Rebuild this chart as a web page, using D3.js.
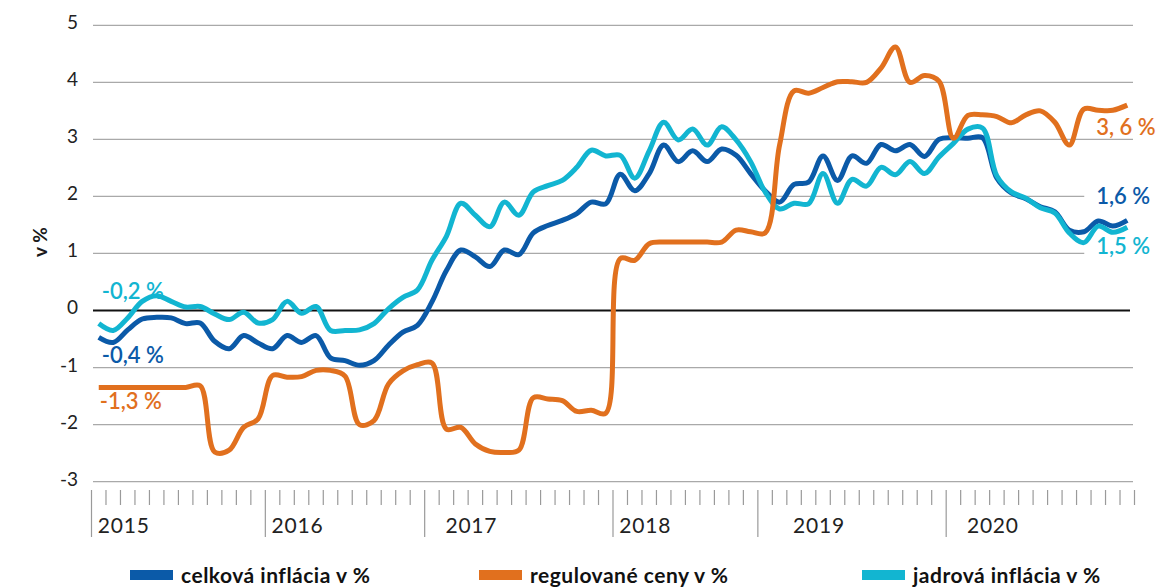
<!DOCTYPE html>
<html>
<head>
<meta charset="utf-8">
<script src="https://cdn.jsdelivr.net/npm/d3@7"></script>
<style>
  body { margin: 0; background: #fff; }
  svg { display: block; font-family: Lato, "Noto Sans", sans-serif; }
</style>
</head>
<body>
<svg id="chart" width="1176" height="587"></svg>
<script>
// data, monthly Jan 2015 - Dec 2020
const years = ["2015", "2016", "2017", "2018", "2019", "2020"];
const months = years.flatMap(y => d3.range(1, 13).map(m => y + "-" + String(m).padStart(2, "0")));

const celkova = [
  -0.47, -0.56, -0.34, -0.15, -0.12, -0.13, -0.23, -0.22, -0.54, -0.67, -0.44, -0.57,
  -0.67, -0.44, -0.56, -0.44, -0.83, -0.88, -0.96, -0.88, -0.61, -0.38, -0.26, 0.15,
  0.70, 1.06, 0.94, 0.77, 1.06, 0.98, 1.36, 1.49, 1.58, 1.70, 1.90, 1.87,
  2.39, 2.10, 2.40, 2.90, 2.61, 2.80, 2.61, 2.83, 2.72, 2.40, 2.10, 1.90,
  2.21, 2.25, 2.71, 2.28, 2.71, 2.58, 2.91, 2.80, 2.91, 2.70, 3.00, 3.03,
  3.02, 3.03, 2.32, 2.06, 1.96, 1.82, 1.73, 1.41, 1.38, 1.57, 1.48, 1.58
];
const regulovane = [
  -1.35, -1.35, -1.35, -1.35, -1.35, -1.35, -1.35, -1.32, -2.48, -2.45, -2.05, -1.90,
  -1.14, -1.17, -1.16, -1.05, -1.05, -1.15, -2.00, -1.93, -1.29, -1.06, -0.95, -0.92,
  -2.08, -2.05, -2.34, -2.47, -2.49, -2.45, -1.53, -1.55, -1.58, -1.77, -1.75, -1.80,
  0.91, 0.88, 1.17, 1.20, 1.20, 1.20, 1.20, 1.20, 1.41, 1.38, 1.36, 2.90,
  3.85, 3.81, 3.91, 4.01, 4.01, 4.00, 4.25, 4.62, 4.00, 4.12, 4.02, 3.02,
  3.42, 3.43, 3.40, 3.29, 3.43, 3.50, 3.30, 2.90, 3.53, 3.51, 3.51, 3.60
];
const jadrova = [
  -0.23, -0.35, -0.13, 0.16, 0.26, 0.16, 0.06, 0.07, -0.06, -0.16, -0.03, -0.22,
  -0.16, 0.16, -0.05, 0.07, -0.35, -0.35, -0.34, -0.23, 0.03, 0.23, 0.36, 0.88,
  1.30, 1.88, 1.67, 1.47, 1.90, 1.67, 2.08, 2.19, 2.28, 2.51, 2.81, 2.71,
  2.72, 2.32, 2.80, 3.30, 2.99, 3.18, 2.90, 3.22, 2.99, 2.61, 2.08, 1.78,
  1.88, 1.87, 2.40, 1.88, 2.30, 2.18, 2.51, 2.38, 2.61, 2.40, 2.69, 2.93,
  3.18, 3.20, 2.36, 2.08, 1.97, 1.80, 1.71, 1.36, 1.19, 1.48, 1.37, 1.46
];

const yTicks = [-3, -2, -1, 0, 1, 2, 3, 4, 5];
// year dividers on the axis, in months from the start (as drawn in the original)
const yearDividers = [0, 12, 23, 36, 46, 59];

const seriesNames = ["celková inflácia v %", "regulované ceny v %", "jadrová inflácia v %"];
const seriesColors = ["#0b5aa8", "#e1701e", "#12b5d1"];

const svg = d3.select("#chart");

const x = d3.scaleBand().domain(months).range([91.5, 1134.5]);
const xc = m => x(m) + x.bandwidth() / 2;
const y = d3.scaleLinear().domain([-3, 5]).range([481.6, 25.3]);

const gridLeft = 93, gridRight = 1133;

// gridlines
svg.append("g")
  .selectAll("line")
  .data(yTicks.filter(t => t !== 0))
  .join("line")
  .attr("x1", gridLeft).attr("x2", gridRight)
  .attr("y1", d => y(d)).attr("y2", d => y(d))
  .attr("stroke", "#a9a9a9").attr("stroke-width", 1.3);

svg.append("line")
  .attr("x1", gridLeft).attr("x2", gridRight - 3)
  .attr("y1", y(0)).attr("y2", y(0))
  .attr("stroke", "#111").attr("stroke-width", 2.2);

// y tick labels
svg.append("g")
  .selectAll("text")
  .data(yTicks)
  .join("text")
  .attr("x", 78)
  .attr("y", d => y(d) + 4)
  .attr("text-anchor", "end")
  .attr("font-size", 19)
  .attr("fill", "#222")
  .text(d => d);

svg.append("text")
  .attr("transform", "translate(47,242) rotate(-90)")
  .attr("text-anchor", "middle")
  .attr("font-size", 19)
  .attr("font-weight", 700)
  .attr("fill", "#1a1a1a")
  .text("v %");

// x axis: monthly ticks between categories, long dividers for years
const step = x.step();
const bx = k => 91.5 + k * step;
svg.append("g")
  .selectAll("line")
  .data(d3.range(1, months.length + 1).filter(k => !yearDividers.includes(k)))
  .join("line")
  .attr("x1", d => bx(d)).attr("x2", d => bx(d))
  .attr("y1", 490).attr("y2", 505)
  .attr("stroke", "#9a9a9a").attr("stroke-width", 1.2);

svg.append("g")
  .selectAll("line")
  .data(yearDividers)
  .join("line")
  .attr("x1", d => bx(d)).attr("x2", d => bx(d))
  .attr("y1", 490).attr("y2", 537)
  .attr("stroke", "#9a9a9a").attr("stroke-width", 1.2);

svg.append("g")
  .selectAll("text")
  .data(years)
  .join("text")
  .attr("x", d => xc(d + "-01") - 1)
  .attr("y", 533)
  .attr("font-size", 21)
  .attr("letter-spacing", 0.8)
  .attr("fill", "#222")
  .text(d => d);

// end labels (the right ones get a white box so the gridline stops short)
const seriesData = [celkova, regulovane, jadrova];
const labels = [
  { s: 2, i: 0, text: "-0,2 %", dx: 3, dy: -25, box: false },
  { s: 0, i: 0, text: "-0,4 %", dx: 3, dy: 26, box: false },
  { s: 1, i: 0, text: "-1,3 %", dx: 1, dy: 22, box: false },
  { s: 1, i: 71, text: "3, 6 %", dx: -31, dy: 30, box: false },
  { s: 0, i: 71, text: "1,6 %", dx: -31, dy: -16, box: true },
  { s: 2, i: 71, text: "1,5 %", dx: -31, dy: 27, box: true }
];

const boxLayer = svg.append("g");
const lineLayer = svg.append("g");
const labelLayer = svg.append("g");

labels.forEach(l => {
  const t = labelLayer.append("text")
    .attr("x", xc(months[l.i]) + l.dx)
    .attr("y", y(seriesData[l.s][l.i]) + l.dy)
    .attr("font-size", 22)
    .attr("font-weight", 600)
    .attr("fill", seriesColors[l.s])
    .text(l.text);
  if (l.box) {
    const b = t.node().getBBox();
    boxLayer.append("rect")
      .attr("x", b.x - 12).attr("y", b.y - 2)
      .attr("width", b.width + 20).attr("height", b.height + 4)
      .attr("fill", "#fff");
  }
});

const line = d3.line()
  .x((d, i) => xc(months[i]))
  .y(d => y(d))
  .curve(d3.curveCatmullRom.alpha(0.5));

[0, 2, 1].forEach(s => {
  lineLayer.append("path")
    .datum(seriesData[s])
    .attr("d", line)
    .attr("fill", "none")
    .attr("stroke", seriesColors[s])
    .attr("stroke-width", 5)
    .attr("stroke-linejoin", "round");
});

// legend
const legendX = [130, 479, 862];
const legend = svg.append("g")
  .selectAll("g")
  .data(seriesNames)
  .join("g")
  .attr("transform", (d, i) => `translate(${legendX[i]},570)`);

legend.append("rect")
  .attr("width", 43).attr("height", 10)
  .attr("fill", (d, i) => seriesColors[i]);

legend.append("text")
  .attr("x", 51)
  .attr("y", 13)
  .attr("font-size", 21)
  .attr("letter-spacing", 0.5)
  .attr("font-weight", 700)
  .attr("fill", "#111")
  .text(d => d);
</script>
</body>
</html>
